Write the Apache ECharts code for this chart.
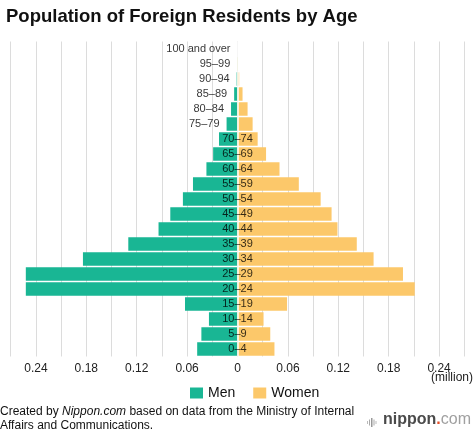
<!DOCTYPE html>
<html>
<head>
<meta charset="utf-8">
<script src="https://cdn.jsdelivr.net/npm/echarts@6/dist/echarts.min.js"></script>
<style>
html,body{margin:0;padding:0;background:#fff;}
#chart{width:474px;height:435px;}
</style>
</head>
<body>
<div id="chart"></div>
<script>
const categories = ['100 and over','95–99','90–94','85–89','80–84','75–79','70–74','65–69','60–64','55–59','50–54','45–49','40–44','35–39','30–34','25–29','20–24','15–19','10–14','5–9','0–4'];
const menValues   = [0, 0.0003, 0.001, 0.004, 0.0077, 0.013, 0.022, 0.029, 0.037, 0.053, 0.065, 0.080, 0.094, 0.130, 0.184, 0.252, 0.252, 0.0625, 0.034, 0.043, 0.048];
const womenValues = [0, 0.0005, 0.002, 0.006, 0.012, 0.018, 0.024, 0.034, 0.050, 0.073, 0.099, 0.112, 0.119, 0.142, 0.162, 0.197, 0.211, 0.059, 0.031, 0.039, 0.044];
const outsideLabelRows = 6; // rows whose age label sits beside the men bar

const FONT = '"Liberation Sans", Arial, Helvetica, sans-serif';
const chart = echarts.init(document.getElementById('chart'), null, {renderer:'canvas'});

const labelData = categories.map((c, i) => {
  if (i < outsideLabelRows) {
    return {value: [-menValues[i], i], label: {position: 'left', distance: 7}};
  }
  return {value: [0, i], label: {position: 'inside'}};
});

const option = {
  animation: false,
  backgroundColor: '#fff',
  title: {
    text: 'Population of Foreign Residents by Age',
    left: 1, top: 2,
    textStyle: {fontFamily: FONT, fontSize: 18.5, fontWeight: 'bold', color: '#111'}
  },
  legend: {
    data: ['Men', 'Women'],
    left: 185, top: 381,
    icon: 'rect', itemWidth: 13, itemHeight: 11, itemGap: 18,
    textStyle: {fontFamily: FONT, fontSize: 14, color: '#111'}
  },
  grid: {left: 10.7, right: 9.7, top: 41.5, bottom: 78.5, containLabel: false},
  xAxis: {
    type: 'value', min: -0.27, max: 0.27, interval: 0.03,
    axisLine: {show: false}, axisTick: {show: false},
    splitLine: {show: true, lineStyle: {color: '#dcdcdc', width: 1}},
    axisLabel: {
      fontFamily: FONT, fontSize: 12, color: '#222', margin: 6,
      showMinLabel: false, showMaxLabel: false,
      formatter: function (v) {
        const h = Math.round(Math.abs(v) * 100);
        if (h % 6 !== 0) return '';
        if (h === 0) return '0';
        return (h / 100).toFixed(2);
      }
    }
  },
  yAxis: {
    type: 'category', data: categories, inverse: true, show: false
  },
  series: [
    {
      name: 'Men', type: 'bar', data: menValues.map(v => -v),
      barGap: '-100%', barCategoryGap: '10%',
      itemStyle: {color: '#19b694'}
    },
    {
      name: 'Women', type: 'bar', data: womenValues,
      barGap: '-100%', barCategoryGap: '10%',
      itemStyle: {color: '#fcc86a'},
      markLine: {
        silent: true, symbol: 'none', label: {show: false},
        lineStyle: {color: '#fff', width: 1.5, type: 'solid'},
        data: [{xAxis: 0}]
      }
    },
    {
      name: 'labels', type: 'scatter', symbolSize: 0, z: 10, silent: true,
      data: labelData,
      label: {
        show: true, fontFamily: FONT, fontSize: 11, color: '#000',
        formatter: p => categories[p.dataIndex]
      }
    }
  ],
  graphic: [
    {type: 'text', right: 1, top: 372, style: {text: '(million)', font: '12px ' + FONT, fill: '#222'}},
    {type: 'text', left: 0, top: 405, style: {
      rich: {n: {font: '12px ' + FONT, fill: '#111'}, i: {font: 'italic 12px ' + FONT, fill: '#111'}},
      text: '{n|Created by }{i|Nippon.com}{n| based on data from the Ministry of Internal}\n{n|Affairs and Communications.}',
      lineHeight: 14
    }},
    {type: 'group', left: 367, top: 418, children: [
      {type: 'rect', shape: {x: 0, y: 3, width: 1, height: 3}, style: {fill: '#bbb'}},
      {type: 'rect', shape: {x: 2, y: 1.5, width: 1, height: 6}, style: {fill: '#aaa'}},
      {type: 'rect', shape: {x: 4, y: 0, width: 1.5, height: 9}, style: {fill: '#999'}},
      {type: 'rect', shape: {x: 6.5, y: 1.5, width: 1, height: 6}, style: {fill: '#aaa'}},
      {type: 'rect', shape: {x: 8.5, y: 3, width: 1, height: 3}, style: {fill: '#bbb'}}
    ]},
    {type: 'text', left: 383, top: 412, style: {
      rich: {
        a: {font: 'bold 16px ' + FONT, fill: '#4a4a4a'},
        d: {font: 'bold 16px ' + FONT, fill: '#e8502a'},
        c: {font: '16px ' + FONT, fill: '#a0a0a0'}
      },
      text: '{a|nippon}{d|.}{c|com}'
    }}
  ]
};
chart.setOption(option);
</script>
</body>
</html>
